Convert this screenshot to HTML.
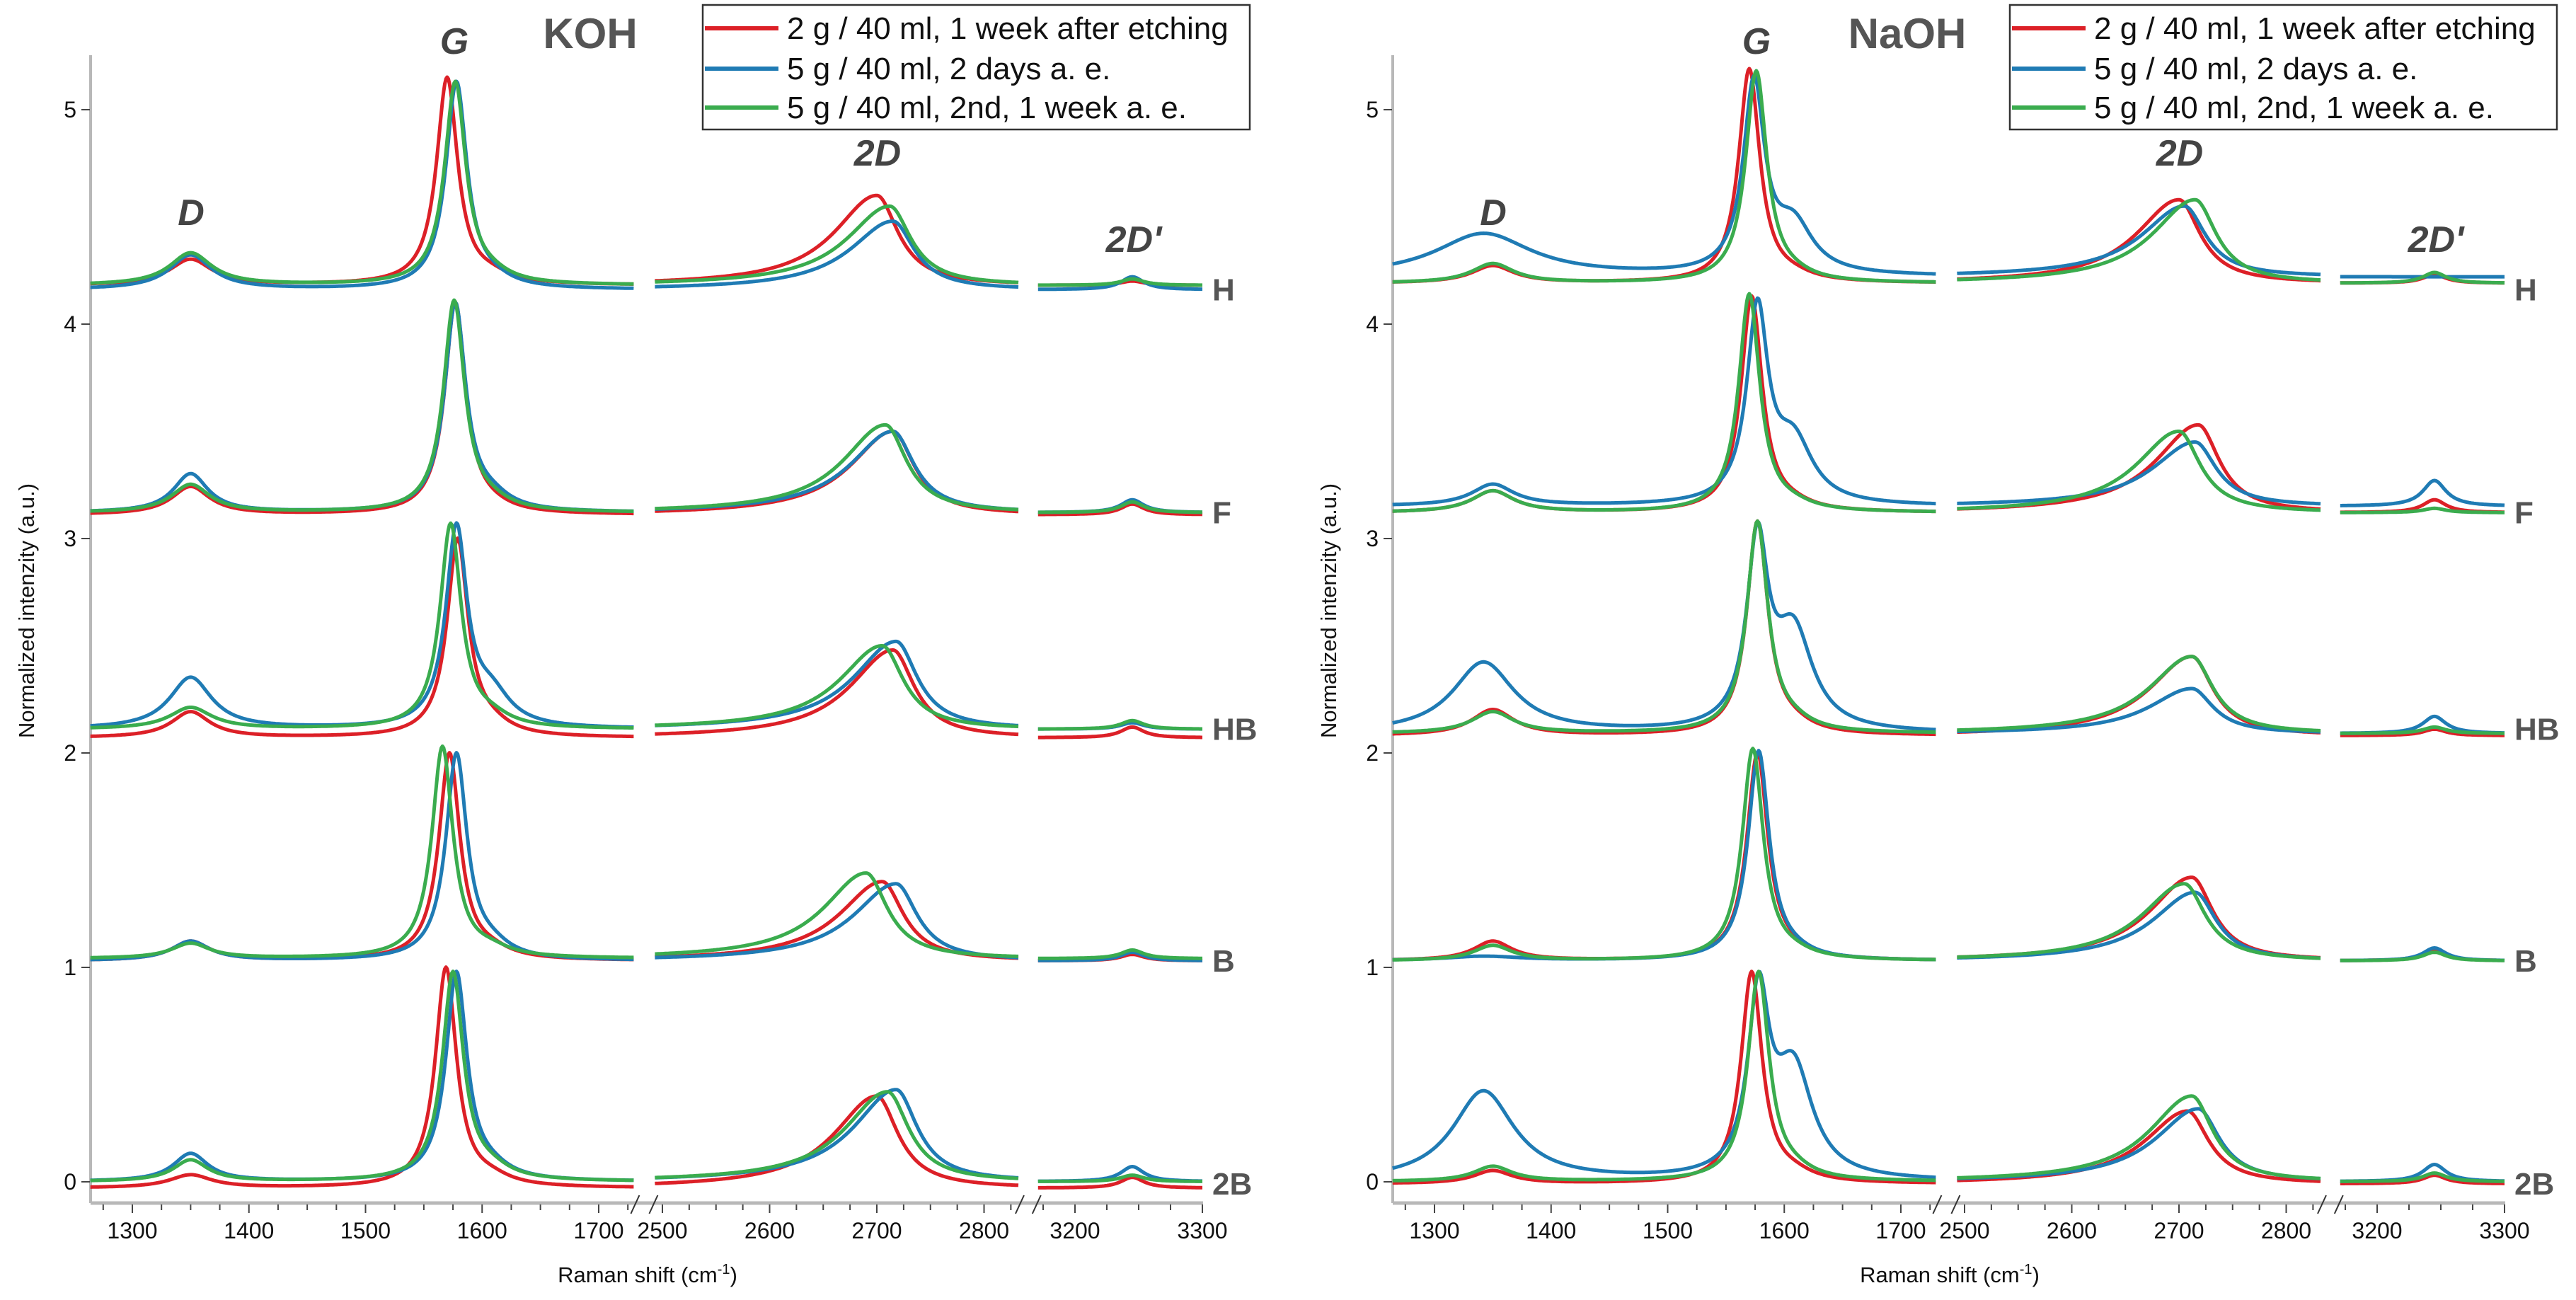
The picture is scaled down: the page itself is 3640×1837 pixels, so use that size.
<!DOCTYPE html>
<html><head><meta charset="utf-8"><style>
html,body{margin:0;padding:0;background:#fff;}
svg{display:block;font-family:"Liberation Sans",Arial,sans-serif;}
</style></head><body>
<svg id="chart" width="3640" height="1837" viewBox="0 0 3640 1837" xmlns="http://www.w3.org/2000/svg"></svg>
<script>
// ---- data ----
const samples = ['H','F','HB','B','2B'];
const seriesNames = ['2 g / 40 ml, 1 week after etching','5 g / 40 ml, 2 days a. e.','5 g / 40 ml, 2nd, 1 week a. e.'];
const seriesColors = ['#dc2027','#1f7bb4','#3aac4e'];
const yTicks = [0,1,2,3,4,5];
const xTicksSeg1 = [1300,1400,1500,1600,1700];
const xTicksSeg2 = [2500,2600,2700,2800];
const xTicksSeg3 = [3200,3300];
const panelTitles = ['KOH','NaOH'];

// KOH panel (rows: H,F,HB,B,2B ; cols: red, blue, green)
const kohBase   = [[4.18,4.16,4.18],[3.11,3.12,3.12],[2.07,2.11,2.11],[1.03,1.03,1.04],[-0.03,0.0,0.0]];
const kohDPeak  = [[4.30,4.32,4.33],[3.24,3.30,3.25],[2.19,2.35,2.21],[1.12,1.12,1.11],[0.03,0.13,0.10]];
const kohDWidth = [[22,22,22],[20,18,20],[20,22,22],[20,20,20],[22,18,18]];
const kohGPeak  = [[5.15,5.13,5.13],[4.10,4.10,4.11],[3.00,3.07,3.07],[2.00,2.00,2.03],[1.00,0.98,0.98]];
const kohGPos   = [[1570,1578,1577],[1577,1577,1576],[1579,1578,1573],[1572,1578,1566],[1569,1578,1575]];
const kohShoulder = [[0.03,0.03,0.03],[0.02,0.05,0.03],[0.04,0.14,0.04],[0.03,0.05,0.03],[0.03,0.04,0.04]];
const koh2DPeak = [[4.60,4.48,4.55],[3.50,3.50,3.53],[2.48,2.52,2.50],[1.40,1.39,1.44],[0.40,0.43,0.42]];
const koh2DPos  = [[2700,2715,2712],[2715,2715,2708],[2715,2718,2705],[2705,2718,2690],[2700,2718,2710]];
const koh2DpPeak= [[4.20,4.22,4.21],[3.16,3.18,3.17],[2.12,2.14,2.15],[1.06,1.07,1.08],[0.02,0.07,0.03]];

// NaOH panel
const naohBase   = [[4.19,4.22,4.19],[3.12,3.15,3.12],[2.08,2.09,2.09],[1.03,1.03,1.03],[-0.01,0.0,0.0]];
const naohDPeak  = [[4.27,4.42,4.28],[3.22,3.25,3.22],[2.20,2.42,2.19],[1.12,1.05,1.10],[0.05,0.42,0.07]];
const naohDWidth = [[22,50,22],[22,22,22],[22,32,22],[20,40,20],[20,32,20]];
const naohGPeak  = [[5.19,5.15,5.18],[4.13,4.12,4.14],[3.08,3.07,3.08],[2.00,2.01,2.02],[0.98,0.97,0.98]];
const naohGPos   = [[1570,1574,1576],[1572,1577,1570],[1577,1577,1577],[1577,1578,1573],[1572,1578,1578]];
const naohShoulder = [[0.02,0.22,0.02],[0.02,0.28,0.02],[0.03,0.45,0.03],[0.02,0.02,0.02],[0.03,0.50,0.03]];
const naoh2DPeak = [[4.58,4.55,4.58],[3.53,3.45,3.50],[2.45,2.30,2.45],[1.42,1.35,1.39],[0.33,0.34,0.40]];
const naoh2DPos  = [[2700,2705,2715],[2718,2715,2700],[2712,2712,2712],[2712,2715,2705],[2708,2718,2712]];
const naoh2DpPeak= [[4.23,4.22,4.24],[3.18,3.27,3.14],[2.11,2.17,2.12],[1.08,1.09,1.07],[0.03,0.08,0.04]];

// ---- layout ----
const NS='http://www.w3.org/2000/svg';
const svg=document.getElementById('chart');
function mk(tag,attrs,parent){const e=document.createElementNS(NS,tag);for(const k in attrs)e.setAttribute(k,attrs[k]);(parent||svg).appendChild(e);return e;}
const segs=[{lo:1264,hi:1730,ref:1300,px:187,k:1.6475},{lo:2493,hi:2832,ref:2500,px:936,k:1.515},{lo:3171,hi:3300,ref:3200,px:1519,k:1.80}];
function xs(seg,v){return seg.px+(v-seg.ref)*seg.k;}
function ys(v){return 1670-v*303;}
function lor(v,p,w){return w*w/((v-p)*(v-p)+w*w);}
function spectrum(v,P,i,j){
  const b=P.base[i][j];
  let y=b;
  y+=(P.D[i][j]-b)*lor(v,1350-(P.Dw[i][j]>30?8:0),P.Dw[i][j]);
  const gp=P.Gp[i][j];
  const gh=P.G[i][j]-b-P.sh[i][j]*lor(gp,1608,20);
  y+=gh*lor(v,gp,11);
  y+=P.sh[i][j]*lor(v,1608,20);
  const p2=P.D2p[i][j],w2=v<p2?48:24;
  y+=(P.D2[i][j]-b)*lor(v,p2,w2);
  y+=(P.Dp[i][j]-b)*lor(v,3245,11);
  return y;
}
const panels=[
 {ox:0,title:'KOH',P:{base:kohBase,D:kohDPeak,Dw:kohDWidth,G:kohGPeak,Gp:kohGPos,sh:kohShoulder,D2:koh2DPeak,D2p:koh2DPos,Dp:koh2DpPeak}},
 {ox:1840,title:'NaOH',P:{base:naohBase,D:naohDPeak,Dw:naohDWidth,G:naohGPeak,Gp:naohGPos,sh:naohShoulder,D2:naoh2DPeak,D2p:naoh2DPos,Dp:naoh2DpPeak}}
];
panels.forEach((pn,pi)=>{
  const g=mk('g',{transform:`translate(${pn.ox},0)`});
  
  
  const ya=mk('line',{x1:128,y1:78,x2:128,y2:1700,stroke:'#b8b8b8','stroke-width':4},g);
  
  
  yTicks.forEach(t=>{
    const tk=mk('line',{x1:115,y1:ys(t),x2:127,y2:ys(t),stroke:'#444','stroke-width':2},g);
    
    
    const tl=mk('text',{x:108,y:ys(t)+11,'text-anchor':'end','font-size':32,fill:'#111'},g);
    tl.textContent=t;
    
    
  });
  const yt=mk('text',{x:0,y:0,transform:'translate(48,863) rotate(-90)','text-anchor':'middle','font-size':31,fill:'#111'},g);
  yt.textContent='Normalized intenzity (a.u.)';
  
  
  const xa=mk('line',{x1:128,y1:1700,x2:1700,y2:1700,stroke:'#b8b8b8','stroke-width':5},g);
  
  
  [[xs(segs[0],1730)+2,xs(segs[1],2493)-2],[xs(segs[1],2832)+2,xs(segs[2],3171)-2]].forEach(br=>{
    br.forEach(bx=>{
      const s=mk('line',{x1:bx-6,y1:1715,x2:bx+6,y2:1689,stroke:'#333','stroke-width':2},g);
      
      
    });
  });
  const tickSets=[xTicksSeg1,xTicksSeg2,xTicksSeg3];
  segs.forEach((sg,si)=>{
    for(let v=Math.ceil(sg.lo/25)*25; v<=sg.hi; v+=25){
      const major=v%100===0;
      const tk=mk('line',{x1:xs(sg,v),y1:1702,x2:xs(sg,v),y2:major?1714:1710,stroke:'#444','stroke-width':2},g);
      
      
    }
    tickSets[si].forEach(t=>{
      const tl=mk('text',{x:xs(sg,t),y:1750,'text-anchor':'middle','font-size':32,fill:'#111'},g);
      tl.textContent=t;
      
      
    });
  });
  const xt=mk('text',{x:915,y:1812,'text-anchor':'middle','font-size':31,fill:'#111'},g);
  xt.innerHTML='Raman shift (cm<tspan dy="-12" font-size="20">-1</tspan><tspan dy="12">)</tspan>';
  
  
  samples.forEach((s,i)=>{
    [0,1,2].forEach(j=>{
      segs.forEach(sg=>{
        let d='';
        for(let v=sg.lo; v<=sg.hi; v+=1){
          d+=(d?'L':'M')+xs(sg,v).toFixed(1)+','+ys(spectrum(v,pn.P,i,j)).toFixed(1);
        }
        const path=mk('path',{d:d,fill:'none',stroke:seriesColors[j],'stroke-width':5,'stroke-linejoin':'round'},g);
        
        
      });
    });
    const lb=mk('text',{x:1713,y:ys(kohBase[i][1])+15+(i===4?3:0),'font-size':44,'font-weight':'bold',fill:'#555'},g);
    lb.textContent=s;
    
    
  });
  [['G',642,76],['D',270,318],['2D',1240,234],["2D'",1602,356]].forEach(pl=>{
    const t=mk('text',{x:pl[1],y:pl[2],'text-anchor':'middle','font-size':52,'font-weight':'bold','font-style':'italic',fill:'#444'},g);
    t.textContent=pl[0];
    
    
  });
  const ti=mk('text',{x:pi===0?834:855,y:68,'text-anchor':'middle','font-size':60,'font-weight':'bold',fill:'#555'},g);
  ti.textContent=pn.title;
  
  
  const lx=pi===0?993:1000;
  const lg=mk('g',{},g);
  
  
  mk('rect',{x:lx,y:7,width:773,height:176,fill:'#fff',stroke:'#333','stroke-width':2.5},lg);
  seriesNames.forEach((n,j)=>{
    const yy=[40,97,152][j];
    const ln=mk('line',{x1:lx+3,y1:yy,x2:lx+107,y2:yy,stroke:seriesColors[j],'stroke-width':6},lg);
    
    
    const tx=mk('text',{x:lx+119,y:yy+15,'font-size':44,fill:'#111'},lg);
    tx.textContent=n;
    
    
  });
});
</script>
</body></html>
